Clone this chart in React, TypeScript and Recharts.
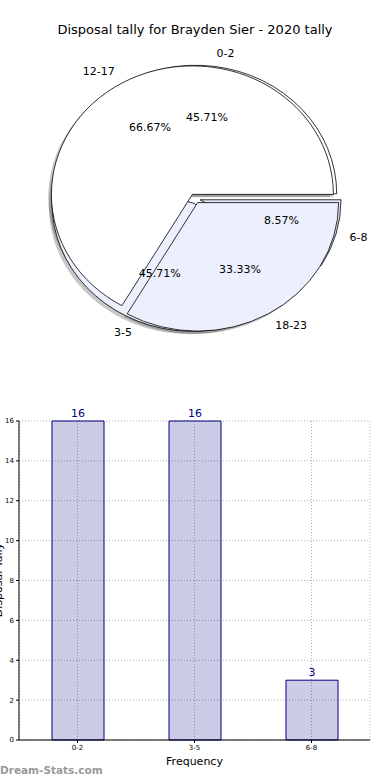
import React from 'react';
import {
  PieChart,
  Pie,
  Cell,
  BarChart,
  Bar,
  XAxis,
  YAxis,
  CartesianGrid,
  LabelList,
} from 'recharts';

const FONT = '"DejaVu Sans", Verdana, sans-serif';

// disposals per game, grouped in ranges (also used by the bar chart)
const tallyLabels = ['0-2', '3-5', '6-8'];
const tallyValues = [16, 16, 3];
const tallyColors = ['#ffffff', '#ebf0fc', '#e4ebfa'];

// second tally drawn on top of the first one
const rangeLabels = ['12-17', '18-23'];
const rangeValues = [2, 1];
const rangeColors = ['#ffffff', '#ebf0fc'];

const yTicks = [0, 2, 4, 6, 8, 10, 12, 14, 16];

// pie geometry: the original pie is an ellipse, so the wedges are drawn as a
// circle of radius R and stretched to RX x RY around the centre
const CX = 195;
const CY = 198.5;
const R = 135;
const RX = 141;
const RY = 128.5;
const SX = RX / R;
const SY = RY / R;
const EXPLODE = 5;
const SHADOW = 3;

const NAVY = '#000080';
const NO_MARGIN = { top: 0, right: 0, bottom: 0, left: 0 };

const toData = (labels: string[], values: number[]) =>
  labels.map((name, i) => ({ name, value: values[i] }));

// mid angle of each slice, only used to push slices outwards
const midAngles = (values: number[]) => {
  const total = values.reduce((a, b) => a + b, 0);
  let acc = 0;
  return values.map((v) => {
    const m = ((acc + v / 2) / total) * 360;
    acc += v;
    return m;
  });
};

const rad = Math.PI / 180;

const textStyle = { fontSize: 11, fontFamily: FONT, fill: '#000' };

const makeLabel = (target: number) => (p: any) => {
  if (p.index !== target) return null;
  const c = Math.cos(p.midAngle * rad);
  const s = Math.sin(p.midAngle * rad);
  return (
    <g>
      <text
        x={p.cx + 1.1 * RX * c}
        y={p.cy - 1.1 * RY * s}
        textAnchor={c > 0 ? 'start' : 'end'}
        dominantBaseline="central"
        style={textStyle}
      >
        {p.name}
      </text>
      <text
        x={p.cx + 0.6 * RX * c}
        y={p.cy - 0.6 * RY * s}
        textAnchor="middle"
        dominantBaseline="central"
        style={textStyle}
      >
        {(p.percent * 100).toFixed(2)}%
      </text>
    </g>
  );
};

type Mode = 'shadow' | 'wedge' | 'label';

// one Pie per slice so each slice can be exploded on its own
const slicePies = (
  key: string,
  labels: string[],
  values: number[],
  colors: string[],
  mode: Mode
) => {
  const data = toData(labels, values);
  const mids = midAngles(values);
  return data.map((_, i) => {
    let dx = EXPLODE * Math.cos(mids[i] * rad);
    let dy = -EXPLODE * Math.sin(mids[i] * rad);
    if (mode === 'shadow') {
      dx -= SHADOW;
      dy += SHADOW;
    }
    if (mode === 'label') {
      dx *= SX;
      dy *= SY;
    }
    return (
      <Pie
        key={`${key}-${mode}-${i}`}
        data={data}
        dataKey="value"
        nameKey="name"
        cx={CX + dx}
        cy={CY + dy}
        outerRadius={R}
        startAngle={0}
        endAngle={360}
        isAnimationActive={false}
        labelLine={false}
        label={mode === 'label' ? makeLabel(i) : false}
      >
        {data.map((d, j) => {
          if (j !== i || mode === 'label')
            return <Cell key={d.name} fill="none" stroke="none" />;
          if (mode === 'shadow')
            return <Cell key={d.name} fill="#000" fillOpacity={0.22} stroke="none" />;
          return <Cell key={d.name} fill={colors[j]} stroke="#000" strokeWidth={0.8} />;
        })}
      </Pie>
    );
  });
};

const barData = toData(tallyLabels, tallyValues);

export default function App() {
  return (
    <div
      style={{
        position: 'absolute',
        left: 0,
        top: 0,
        width: 390,
        height: 780,
        background: '#fff',
        overflow: 'hidden',
        fontFamily: FONT,
      }}
    >
      <div
        style={{
          position: 'absolute',
          top: 21,
          left: 0,
          width: 390,
          textAlign: 'center',
          fontSize: 13,
          lineHeight: '18px',
          color: '#000',
        }}
      >
        Disposal tally for Brayden Sier - 2020 tally
      </div>

      {/* wedges, stretched into an ellipse */}
      <div
        style={{
          position: 'absolute',
          top: 0,
          left: 0,
          width: 390,
          height: 380,
          transform: `scale(${SX}, ${SY})`,
          transformOrigin: `${CX}px ${CY}px`,
        }}
      >
        <PieChart width={390} height={380} margin={NO_MARGIN}>
          {slicePies('a', tallyLabels, tallyValues, tallyColors, 'shadow')}
          {slicePies('b', rangeLabels, rangeValues, rangeColors, 'shadow')}
          {slicePies('a', tallyLabels, tallyValues, tallyColors, 'wedge')}
          {slicePies('b', rangeLabels, rangeValues, rangeColors, 'wedge')}
        </PieChart>
      </div>

      {/* slice names and percentages */}
      <div style={{ position: 'absolute', top: 0, left: 0 }}>
        <PieChart width={390} height={380} margin={NO_MARGIN}>
          {slicePies('a', tallyLabels, tallyValues, tallyColors, 'label')}
          {slicePies('b', rangeLabels, rangeValues, rangeColors, 'label')}
        </PieChart>
      </div>

      <div style={{ position: 'absolute', top: 400, left: 0 }}>
        <BarChart
          width={390}
          height={370}
          data={barData}
          margin={{ top: 21, right: 20, left: 0, bottom: 0 }}
        >
          <CartesianGrid stroke="#b0b0b0" strokeDasharray="1 2" />
          <XAxis
            dataKey="name"
            height={30}
            stroke="#000"
            tickSize={3}
            tick={{ fontSize: 7, fill: '#000', fontFamily: FONT }}
            label={{
              value: 'Frequency',
              position: 'insideBottom',
              offset: 5,
              style: { fontSize: 11, fill: '#000', fontFamily: FONT },
            }}
          />
          <XAxis
            xAxisId="top"
            dataKey="name"
            orientation="top"
            height={0}
            tick={false}
            tickLine={false}
            stroke="#000"
          />
          <YAxis
            width={19}
            domain={[0, 16]}
            ticks={yTicks}
            stroke="#000"
            tickSize={3}
            tick={{ fontSize: 7, fill: '#000', fontFamily: FONT }}
          />
          <YAxis
            yAxisId="right"
            orientation="right"
            width={0}
            domain={[0, 16]}
            tick={false}
            tickLine={false}
            stroke="#000"
          />
          <Bar
            dataKey="value"
            barSize={52}
            fill={NAVY}
            fillOpacity={0.2}
            stroke={NAVY}
            strokeWidth={1}
            isAnimationActive={false}
          >
            <LabelList
              dataKey="value"
              position="top"
              offset={4}
              style={{ fontSize: 11, fill: NAVY, fontFamily: FONT }}
            />
          </Bar>
        </BarChart>
      </div>

      <div
        style={{
          position: 'absolute',
          left: -51,
          top: 573,
          width: 100,
          height: 14,
          lineHeight: '14px',
          fontSize: 11,
          textAlign: 'center',
          transform: 'rotate(-90deg)',
          color: '#000',
        }}
      >
        Disposal Tally
      </div>

      <div
        style={{
          position: 'absolute',
          left: 0,
          top: 763,
          fontSize: 10.5,
          fontWeight: 'bold',
          color: '#999',
          lineHeight: '14px',
        }}
      >
        Dream-Stats.com
      </div>
    </div>
  );
}
